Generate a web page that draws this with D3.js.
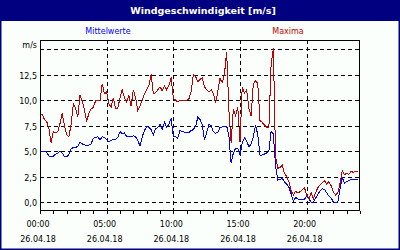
<!DOCTYPE html>
<html><head><meta charset="utf-8">
<script src="https://cdn.jsdelivr.net/npm/d3@7"></script>
<style>html,body{margin:0;padding:0;background:#fff;}svg{display:block;}</style>
</head><body>
<svg id="c" width="400" height="250"></svg>
<script>
const title = "Windgeschwindigkeit [m/s]";
const seriesNames = ["Mittelwerte", "Maxima"];
const unitLabel = "m/s";
const dateLabel = "26.04.18";
const timeTickMinutes = [0, 300, 600, 900, 1200];
const timeTickLabels = ["00:00", "05:00", "10:00", "15:00", "20:00"];
const yTicks = [0, 2.5, 5, 7.5, 10, 12.5, 15];
const yTickLabels = ["0,0", "2,5", "5,0", "7,5", "10,0", "12,5", ""];
// 10-minute samples, 00:00 .. 23:50
const maxima = [
8.5,8.6,8.1,7.9,7.2,5.8,6.9,6.8,6.9,7.7,8.7,7.5,6.6,6.4,7.6,9.6,9.2,8.3,10.5,9.9,
9.0,7.9,8.7,9.1,9.3,9.9,10.0,9.9,11.6,10.6,10.8,9.6,9.3,10.2,9.2,9.2,10.2,11.0,10.2,9.8,
10.4,9.4,11.0,10.2,9.0,9.4,10.0,10.6,11.0,11.4,12.5,10.65,10.7,11.0,11.3,10.9,11.4,11.0,11.4,12.2,
10.15,10.0,9.8,10.0,9.9,10.0,10.0,10.1,10.8,12.5,12.3,11.8,12.0,12.2,11.3,11.0,10.8,11.0,10.65,9.7,
10.8,12.1,11.7,12.5,14.75,9.0,5.8,9.1,8.5,9.3,5.9,11.3,10.7,11.0,9.2,8.4,11.6,11.9,11.6,8.0,
7.8,7.55,7.35,7.3,13.5,15.05,4.5,3.3,3.4,3.6,2.8,2.5,2.0,1.1,0.7,1.05,0.9,1.0,1.2,1.4,
0.7,0.3,0.9,0.3,0.9,1.4,1.65,1.9,2.1,1.75,2.0,1.6,1.0,0.7,0.9,1.8,3.05,2.7,2.8,2.7,
3.0,2.9,3.0,2.95];
const mittelwerte = [
4.93,4.93,4.93,4.9,4.5,4.4,4.5,4.7,4.75,5.0,4.8,4.45,4.45,4.65,5.2,5.35,5.35,5.45,5.9,5.7,
5.6,5.5,5.6,5.7,6.25,6.3,6.4,6.1,6.4,6.3,6.1,5.9,6.05,6.1,6.15,6.35,6.9,6.7,6.8,6.4,
6.45,6.4,6.5,6.4,6.05,5.5,6.4,7.0,7.4,7.3,7.1,6.55,7.2,7.3,7.6,7.1,7.8,7.35,7.6,8.2,
6.4,6.4,6.25,7.05,6.9,6.85,6.8,6.8,7.0,7.1,7.4,8.3,8.1,7.6,6.1,6.8,7.6,7.5,6.9,6.75,
6.8,7.3,7.35,7.4,7.45,6.5,3.8,4.8,5.25,5.25,4.6,5.8,6.3,6.0,5.4,5.7,6.4,7.5,6.6,4.6,
4.6,4.7,4.8,5.0,6.9,6.7,3.5,2.15,2.2,2.35,1.95,1.75,1.45,0.8,0.05,0.45,0.3,0.2,0.2,0.25,
0.6,0.3,0.0,0.0,0.35,0.75,1.1,1.3,1.25,0.9,0.6,0.4,0.0,0.0,0.0,1.3,2.4,1.85,2.0,2.1,
2.2,2.2,2.2,2.2];
const minutes = d3.range(maxima.length).map(i => i * 10);

const svg = d3.select("#c");
const W = 400, H = 250;
const P = {l: 40, r: 360, t: 40, b: 210};
const font = "DejaVu Sans, Verdana, sans-serif";

svg.append("rect").attr("width", W).attr("height", H).attr("fill", "#fbfffb");
svg.append("rect").attr("width", W).attr("height", 21).attr("fill", "#000080");
svg.append("rect").attr("x", 0.75).attr("y", 0.75).attr("width", W - 1.5).attr("height", H - 1.5)
  .attr("fill", "none").attr("stroke", "#000080").attr("stroke-width", 1.5);

svg.append("text").attr("x", 203).attr("y", 14).attr("text-anchor", "middle")
  .attr("fill", "#fff").attr("font-family", font).attr("font-weight", "bold").attr("font-size", 9.5)
  .text(title);

const x = d3.scaleLinear().domain([0, 1440]).range([P.l, P.r]);
const y = d3.scaleLinear().domain([0, 15]).range([202, 49]);

// gridlines
const g = svg.append("g").attr("shape-rendering", "crispEdges");
g.selectAll(".hg").data(yTicks).join("line")
  .attr("x1", P.l).attr("x2", P.r)
  .attr("y1", d => Math.round(y(d)) + 0.5).attr("y2", d => Math.round(y(d)) + 0.5)
  .attr("stroke", "#000").attr("stroke-dasharray", "4,3");
g.selectAll(".vg").data(timeTickMinutes.slice(1)).join("line")
  .attr("y1", P.t).attr("y2", P.b)
  .attr("x1", d => Math.round(x(d)) + 0.5).attr("x2", d => Math.round(x(d)) + 0.5)
  .attr("stroke", "#000").attr("stroke-dasharray", "4,3");

// series
svg.append("clipPath").attr("id", "pc").append("rect")
  .attr("x", P.l).attr("y", P.t).attr("width", P.r - P.l).attr("height", P.b - P.t);
const line = arr => d3.line().x((d, i) => x(minutes[i])).y(d => y(d))(arr);
svg.append("path").attr("d", line(mittelwerte)).attr("fill", "none")
  .attr("stroke", "#0000ff").attr("stroke-width", 1).attr("shape-rendering", "crispEdges")
  .attr("clip-path", "url(#pc)");
svg.append("path").attr("d", line(maxima)).attr("fill", "none")
  .attr("stroke", "#c00000").attr("stroke-width", 1).attr("shape-rendering", "crispEdges")
  .attr("clip-path", "url(#pc)");

// frame
svg.append("rect").attr("x", P.l + 0.5).attr("y", P.t + 0.5)
  .attr("width", P.r - P.l - 1).attr("height", P.b - P.t)
  .attr("fill", "none").attr("stroke", "#000").attr("shape-rendering", "crispEdges");

// x axis (hourly ticks)
const xAxis = d3.axisBottom(x).tickValues(d3.range(0, 1441, 60)).tickSize(3).tickFormat("");
const ax = svg.append("g").attr("transform", `translate(0,${P.b + 0.5})`).call(xAxis);
ax.select(".domain").remove();
ax.selectAll("line").attr("stroke", "#000").attr("shape-rendering", "crispEdges");

const tl = svg.append("g").attr("font-family", font).attr("font-size", 8).attr("fill", "#000");
tl.selectAll(".t").data(timeTickMinutes).join("text")
  .attr("x", d => x(d) - 2).attr("y", 227).attr("text-anchor", "middle")
  .text((d, i) => timeTickLabels[i]);
tl.selectAll(".d").data(timeTickMinutes).join("text")
  .attr("x", d => x(d) - 2).attr("y", 242).attr("text-anchor", "middle")
  .text(dateLabel);

// y labels
tl.selectAll(".y").data(yTicks).join("text")
  .attr("x", 37).attr("y", d => Math.round(y(d)) + 3.5).attr("text-anchor", "end")
  .text((d, i) => yTickLabels[i]);
tl.append("text").attr("x", 37).attr("y", 48).attr("text-anchor", "end").text(unitLabel);

// legend
tl.append("text").attr("x", 108).attr("y", 34).attr("text-anchor", "middle").attr("fill", "#0000ff").text(seriesNames[0]);
tl.append("text").attr("x", 288).attr("y", 34).attr("text-anchor", "middle").attr("fill", "#c00000").text(seriesNames[1]);
</script>
</body></html>
